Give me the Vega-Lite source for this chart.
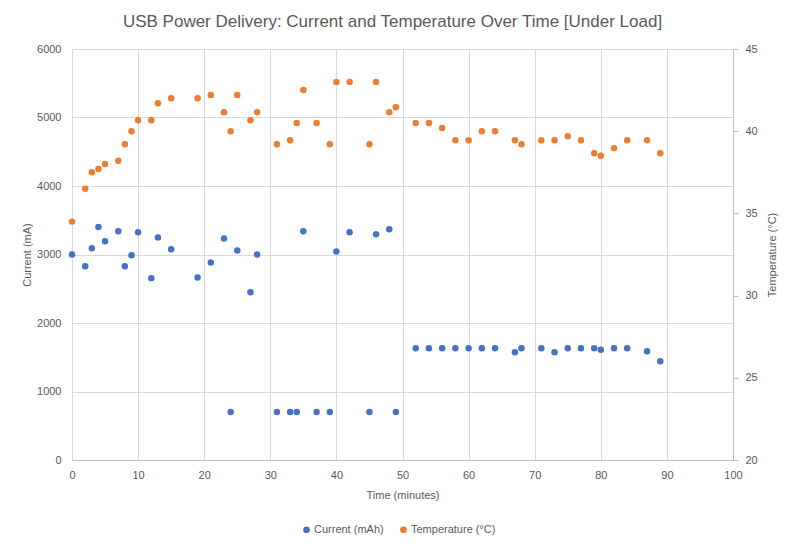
{
  "$schema": "https://vega.github.io/schema/vega-lite/v6.json",
  "width": 661,
  "height": 411,
  "autosize": {"type": "none"},
  "padding": {"left": 72, "top": 49, "right": 61, "bottom": 91},
  "background": "white",
  "config": {
    "font": "Liberation Sans",
    "view": {"stroke": null},
    "axis": {"labelColor": "#595959", "titleColor": "#595959", "labelFontSize": 11, "titleFontSize": 11, "titleFontWeight": "normal", "gridColor": "#D9D9D9", "domainColor": "#BFBFBF", "tickColor": "#BFBFBF"}
  },
  "title": {"text": "USB Power Delivery: Current and Temperature Over Time [Under Load]", "fontSize": 17, "fontWeight": "normal", "color": "#595959", "offset": 12, "anchor": "middle", "dx": -10},
  "data": {"values": [
    {"time": 0, "current": 3000, "temp": 34.5},
    {"time": 2, "current": 2830, "temp": 36.5},
    {"time": 3, "current": 3090, "temp": 37.5},
    {"time": 4, "current": 3400, "temp": 37.7},
    {"time": 5, "current": 3195, "temp": 38.0},
    {"time": 7, "current": 3340, "temp": 38.2},
    {"time": 8, "current": 2830, "temp": 39.2},
    {"time": 9, "current": 2990, "temp": 40.0},
    {"time": 10, "current": 3325, "temp": 40.67},
    {"time": 12, "current": 2655, "temp": 40.67},
    {"time": 13, "current": 3250, "temp": 41.7},
    {"time": 15, "current": 3075, "temp": 42.0},
    {"time": 19, "current": 2665, "temp": 42.0},
    {"time": 21, "current": 2885, "temp": 42.2},
    {"time": 23, "current": 3235, "temp": 41.15},
    {"time": 24, "current": 700, "temp": 40.0},
    {"time": 25, "current": 3060, "temp": 42.2},
    {"time": 27, "current": 2450, "temp": 40.67},
    {"time": 28, "current": 3000, "temp": 41.15},
    {"time": 31, "current": 700, "temp": 39.2},
    {"time": 33, "current": 700, "temp": 39.45},
    {"time": 34, "current": 700, "temp": 40.5},
    {"time": 35, "current": 3340, "temp": 42.5},
    {"time": 37, "current": 700, "temp": 40.5},
    {"time": 39, "current": 700, "temp": 39.2},
    {"time": 40, "current": 3045, "temp": 43.0},
    {"time": 42, "current": 3325, "temp": 43.0},
    {"time": 45, "current": 700, "temp": 39.2},
    {"time": 46, "current": 3295, "temp": 43.0},
    {"time": 48, "current": 3370, "temp": 41.15},
    {"time": 49, "current": 700, "temp": 41.45},
    {"time": 52, "current": 1630, "temp": 40.5},
    {"time": 54, "current": 1630, "temp": 40.5},
    {"time": 56, "current": 1630, "temp": 40.2},
    {"time": 58, "current": 1630, "temp": 39.45},
    {"time": 60, "current": 1630, "temp": 39.45},
    {"time": 62, "current": 1630, "temp": 40.0},
    {"time": 64, "current": 1630, "temp": 40.0},
    {"time": 67, "current": 1572, "temp": 39.45},
    {"time": 68, "current": 1630, "temp": 39.2},
    {"time": 71, "current": 1630, "temp": 39.45},
    {"time": 73, "current": 1572, "temp": 39.45},
    {"time": 75, "current": 1630, "temp": 39.7},
    {"time": 77, "current": 1630, "temp": 39.45},
    {"time": 79, "current": 1630, "temp": 38.66},
    {"time": 80, "current": 1610, "temp": 38.5},
    {"time": 82, "current": 1630, "temp": 38.97},
    {"time": 84, "current": 1630, "temp": 39.45},
    {"time": 87, "current": 1587, "temp": 39.45},
    {"time": 89, "current": 1441, "temp": 38.66}
  ]},
  "layer": [
    {
      "mark": {"type": "point", "filled": true, "opacity": 1, "size": 42},
      "encoding": {
        "x": {"field": "time", "type": "quantitative", "scale": {"domain": [0, 100], "nice": false}, "axis": {"title": "Time (minutes)", "values": [0,10,20,30,40,50,60,70,80,90,100], "format": "d", "labelFlush": false, "ticks": false, "labelPadding": 9, "titlePadding": 9, "domain": true}},
        "y": {"field": "current", "type": "quantitative", "scale": {"domain": [0, 6000], "nice": false}, "axis": {"title": "Current (mA)", "values": [0,1000,2000,3000,4000,5000,6000], "format": "d", "labelFlush": false, "ticks": false, "domain": false, "labelPadding": 11, "titlePadding": 4}},
        "color": {"datum": "Current (mAh)", "type": "nominal", "scale": {"domain": ["Current (mAh)", "Temperature (°C)"], "range": ["#4472C4", "#ED7D31"]}, "legend": {"title": null, "orient": "none", "direction": "horizontal", "legendX": 229, "legendY": 475, "labelFontSize": 11, "labelColor": "#595959", "symbolType": "circle", "symbolSize": 45, "columnPadding": 14, "labelOffset": 2}}
      }
    },
    {
      "mark": {"type": "point", "filled": true, "opacity": 1, "size": 42},
      "encoding": {
        "x": {"field": "time", "type": "quantitative"},
        "y": {"field": "temp", "type": "quantitative", "scale": {"domain": [20, 45], "nice": false}, "axis": {"title": "Temperature (°C)", "orient": "right", "titleAngle": 270, "values": [20,25,30,35,40,45], "format": "d", "labelFlush": false, "grid": false, "ticks": true, "tickSize": 5, "domain": true, "labelPadding": 7, "titlePadding": 20}},
        "color": {"datum": "Temperature (°C)", "type": "nominal"}
      }
    }
  ],
  "resolve": {"scale": {"y": "independent"}}
}
